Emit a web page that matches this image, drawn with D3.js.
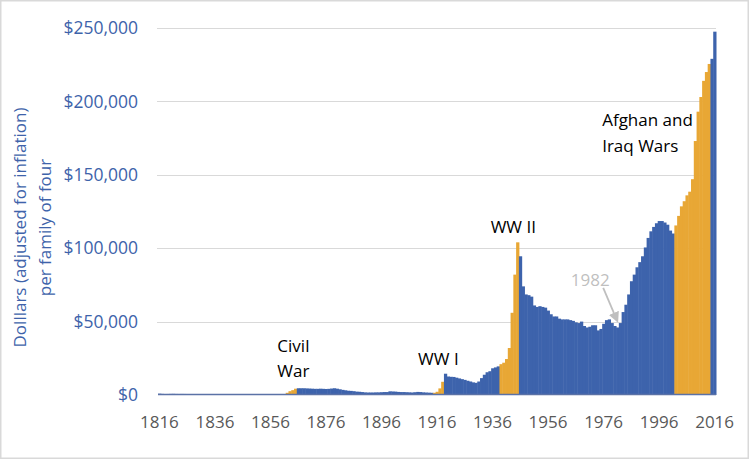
<!DOCTYPE html>
<html>
<head>
<meta charset="utf-8">
<script src="https://cdn.jsdelivr.net/npm/d3@7"></script>
<style>
  body { margin: 0; background: #fff; }
  svg { display: block; font-family: "Open Sans", sans-serif; }
</style>
</head>
<body>
<div class="chart"></div>
<script>
// federal debt per family of four, inflation adjusted, one value per year 1816..2016
const years = d3.range(1816, 2017);

const debtPerFamily = [
  // 1816-1860
  900, 750, 650, 700, 750, 780, 720, 700, 720, 700,
  620, 560, 480, 400, 330, 250, 160, 40, 30, 0,
  2, 20, 60, 20, 30, 80, 150, 210, 160, 120,
  110, 220, 350, 380, 360, 370, 340, 280, 200, 150,
  120, 90, 140, 190, 220,
  // 1861-1865 civil war
  400, 1500, 2600, 3300, 4300,
  // 1866-1914
  4600, 4600, 4600, 4500, 4400, 4300, 4200, 4200, 4300, 4200,
  4100, 4200, 4400, 4600, 4300, 3900, 3500, 3200, 2900, 2800,
  2600, 2300, 2200, 2000, 1800, 1700, 1700, 1700, 1800, 1800,
  1900, 2000, 2000, 2500, 2400, 2300, 2100, 2000, 2000, 1900,
  1800, 1700, 1900, 2100, 2000, 1800, 1700, 1600, 1500,
  // 1915-1918 ww1
  1500, 2200, 4500, 9000,
  // 1919-1938
  14500, 12600, 12400, 12300, 11800, 11300, 10800, 10300, 9700, 9200,
  8600, 8300, 9200, 11500, 13800, 15500, 16200, 18200, 18800, 19500,
  // 1939-1945 ww2
  21000, 22000, 24500, 32000, 56000, 82000, 104000,
  // 1946-2001
  94500, 74000, 68500, 68000, 67000, 61000, 60000, 60500, 60000, 59500,
  57500, 55000, 53500, 53500, 52000, 51500, 51500, 51500, 51000, 50500,
  49500, 49000, 50000, 47000, 46000, 46500, 47500, 47500, 44000, 45000,
  48500, 51000, 51500, 49000, 47000, 46000, 49000, 56500, 61500, 68500,
  77500, 82000, 87000, 90500, 94500, 100500, 107000, 111500, 114500, 117000,
  118500, 118500, 117500, 116000, 112000, 110000,
  // 2002-2014 afghan / iraq
  115500, 122000, 128500, 132000, 136000, 138500, 147000, 173000, 193000, 203000,
  214000, 220000, 225500,
  // 2015-2016
  229000, 247500
];

const warPeriods = [[1861, 1865], [1915, 1918], [1939, 1945], [2002, 2014]];
const warLabels = [
  { lines: ["Civil", "War"], year: 1859, value: 29500, anchor: "start" },
  { lines: ["WW I"], year: 1917, value: 20500, anchor: "middle" },
  { lines: ["WW II"], year: 1944, value: 110500, anchor: "middle" },
  { lines: ["Afghan and", "Iraq Wars"], year: 1976, value: 183000, anchor: "start" }
];

const yTicks = [0, 50000, 100000, 150000, 200000, 250000];
const xTickYears = d3.range(1816, 2017, 20);

const WIDTH = 749, HEIGHT = 459;
const MARGIN = { TOP: 28, RIGHT: 33, BOTTOM: 64, LEFT: 158 };

const BLUE = "#3d63ac";
const ORANGE = "#e8a735";

const svg = d3.select(".chart").append("svg")
    .attr("width", WIDTH)
    .attr("height", HEIGHT);

svg.append("rect")
    .attr("x", 0.75).attr("y", 0.75)
    .attr("width", WIDTH - 1.5).attr("height", HEIGHT - 1.5)
    .attr("fill", "#fff")
    .attr("stroke", "#d9d9d9")
    .attr("stroke-width", 1.5);

const x = d3.scaleBand()
    .domain(years)
    .range([MARGIN.LEFT, WIDTH - MARGIN.RIGHT])
    .paddingInner(0);

const y = d3.scaleLinear()
    .domain([0, 250000])
    .range([HEIGHT - MARGIN.BOTTOM, MARGIN.TOP]);

const isWar = yr => warPeriods.some(p => yr >= p[0] && yr <= p[1]);

// gridlines
svg.append("g")
    .selectAll("line")
    .data(yTicks.slice(1))
    .join("line")
    .attr("x1", MARGIN.LEFT - 1)
    .attr("x2", WIDTH - MARGIN.RIGHT)
    .attr("y1", d => Math.round(y(d)) + 0.5)
    .attr("y2", d => Math.round(y(d)) + 0.5)
    .attr("stroke", "#d9d9d9")
    .attr("stroke-width", 1);

// bars
svg.append("g")
    .selectAll("rect")
    .data(years.map((yr, i) => ({ yr, v: debtPerFamily[i] })))
    .join("rect")
    .attr("x", d => x(d.yr))
    .attr("width", x.bandwidth() + 0.5)
    .attr("y", d => y(d.v))
    .attr("height", d => y(0) - y(d.v))
    .attr("fill", d => isWar(d.yr) ? ORANGE : BLUE);

// baseline
svg.append("line")
    .attr("x1", MARGIN.LEFT)
    .attr("x2", WIDTH - MARGIN.RIGHT)
    .attr("y1", y(0) - 0.5)
    .attr("y2", y(0) - 0.5)
    .attr("stroke", "#5b72a6")
    .attr("stroke-width", 1.3);

// y axis
const yAxis = d3.axisLeft(y)
    .tickValues(yTicks)
    .tickSize(0)
    .tickPadding(20)
    .tickFormat(d => "$" + d3.format(",")(d));

svg.append("g")
    .attr("transform", `translate(${MARGIN.LEFT}, 0)`)
    .call(yAxis)
    .call(g => g.select(".domain").remove())
    .selectAll("text")
    .attr("fill", "#3e63aa")
    .attr("font-size", 17.5)
    .attr("font-family", "Open Sans");

// x axis
const xAxis = d3.axisBottom(x)
    .tickValues(xTickYears)
    .tickSize(0)
    .tickPadding(21);

svg.append("g")
    .attr("transform", `translate(0, ${y(0)})`)
    .call(xAxis)
    .call(g => g.select(".domain").remove())
    .selectAll("text")
    .attr("fill", "#595959")
    .attr("font-size", 17)
    .attr("font-family", "Open Sans");

// axis title
const title = svg.append("text")
    .attr("transform", `translate(31, ${(y(0) + y(250000)) / 2 + 16}) rotate(-90)`)
    .attr("text-anchor", "middle")
    .attr("fill", "#3e63aa")
    .attr("font-size", 17);
title.append("tspan").attr("x", 0).attr("dy", "-0.3em").text("Dolllars (adjusted for inflation)");
title.append("tspan").attr("x", 0).attr("dy", "1.5em").text("per family of four");

// war annotations
warLabels.forEach(l => {
    const t = svg.append("text")
        .attr("x", x(l.year))
        .attr("y", y(l.value))
        .attr("text-anchor", l.anchor)
        .attr("fill", "#000")
        .attr("font-size", 17);
    l.lines.forEach((s, i) => {
        t.append("tspan")
            .attr("x", x(l.year))
            .attr("dy", i === 0 ? 0 : 25.5)
            .text(s);
    });
});

// 1982 callout
const cx = x(1982) + x.bandwidth() / 2;
svg.append("defs").append("marker")
    .attr("id", "head")
    .attr("viewBox", "0 0 10 10")
    .attr("refX", 8).attr("refY", 5)
    .attr("markerWidth", 6).attr("markerHeight", 6)
    .attr("orient", "auto")
    .append("path")
    .attr("d", "M0,0 L10,5 L0,10 z")
    .attr("fill", "#bfbfbf");

svg.append("line")
    .attr("x1", cx - 17)
    .attr("y1", y(73000))
    .attr("x2", cx - 3)
    .attr("y2", y(50500))
    .attr("stroke", "#bfbfbf")
    .attr("stroke-width", 1.8)
    .attr("marker-end", "url(#head)");

svg.append("text")
    .attr("x", cx - 30)
    .attr("y", y(74500))
    .attr("text-anchor", "middle")
    .attr("fill", "#bfbfbf")
    .attr("font-size", 17)
    .text("1982");
</script>
</body>
</html>
